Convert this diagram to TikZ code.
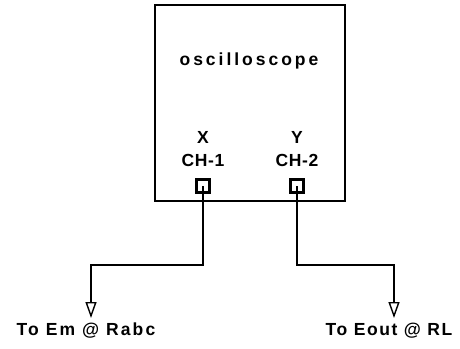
\documentclass[tikz,border=0pt]{standalone}
\usepackage{fontspec}
\setmainfont{Liberation Sans}
\usetikzlibrary{arrows.meta,positioning}

\begin{document}
\begin{tikzpicture}[
  x=1pt, y=-1pt,
  scopebox/.style={draw, line width=2pt, minimum width=190pt, minimum height=196pt, inner sep=0pt},
  lbl/.style={font=\fontsize{17.5}{20}\selectfont\bfseries, inner sep=0pt},
  port/.style={draw, line width=3pt, minimum size=13pt, inner sep=0pt},
  wire/.style={line width=2pt},
  probe/.style={wire, -{Triangle[open, length=16pt, width=11pt, line width=1.4pt]}}
]
\useasboundingbox (0,0) rectangle (460,348);
\node[scopebox] (osc) at (250,103) {};
\node[lbl, font=\fontsize{17.5}{20}\selectfont\bfseries\addfontfeatures{LetterSpace=17}] (title) at (249,61) {oscilloscope};
% channel labels
\node[lbl] (x) at (203,137) {X};
\node[lbl, font=\fontsize{17.5}{20}\selectfont\bfseries\addfontfeatures{LetterSpace=4}] (ch1) at (203,160) {CH-1};
\node[lbl] (y) at (297,137) {Y};
\node[lbl, font=\fontsize{17.5}{20}\selectfont\bfseries\addfontfeatures{LetterSpace=4}] (ch2) at (297,160) {CH-2};
\node[port] (p1) at (203,186) {};
\node[port] (p2) at (296.5,186) {};
% probe ends
\coordinate (b1) at (91,265);
\coordinate (b2) at (394,265);
\coordinate (t1) at (91,318);
\coordinate (t2) at (394,318);
\draw[probe] (p1.center) |- (b1) -- (t1);
\draw[probe] (p2.center) |- (b2) -- (t2);
\node[lbl, font=\fontsize{17.5}{20}\selectfont\bfseries\addfontfeatures{LetterSpace=12}] (em) at (86,331) {To Em @ Rabc};
\node[lbl, font=\fontsize{17.5}{20}\selectfont\bfseries\addfontfeatures{LetterSpace=9}] (eout) at (389,331) {To Eout @ RL};
\end{tikzpicture}
\end{document}
